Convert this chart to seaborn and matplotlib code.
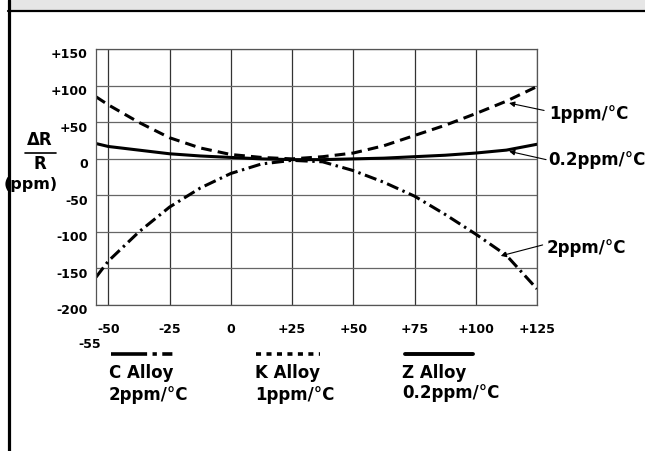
import pandas as pd
import seaborn as sns
import matplotlib.pyplot as plt
import matplotlib.transforms as mtransforms
from matplotlib.lines import Line2D
from matplotlib.patches import Rectangle

# data (temperature in C, dR/R in ppm)
temp = [-55, -50, -37.5, -25, -12.5, 0, 12.5, 25, 37.5, 50, 62.5, 75, 87.5, 100, 112.5, 125]
c_alloy = [-162, -140, -100, -66, -40, -20, -7, -2, -4, -16, -32, -51, -76, -103, -132, -178]
k_alloy = [85, 74, 50, 29, 15, 6, 2, 0, 3, 8, 18, 32, 46, 62, 79, 99]
z_alloy = [21, 17, 12, 7, 4, 2, 0, -1, -1, 0, 1, 3, 5, 8, 12, 20]

x_ticks = [-50, -25, 0, 25, 50, 75, 100, 125]
x_labels = ["-50", "-25", "0", "+25", "+50", "+75", "+100", "+125"]
y_ticks = [-200, -150, -100, -50, 0, 50, 100, 150]
y_labels = ["-200", "-150", "-100", "-50", "0", "+50", "+100", "+150"]

n = len(temp)
df = pd.DataFrame({
    "temp": temp * 3,
    "ppm": c_alloy + k_alloy + z_alloy,
    "alloy": ["C"] * n + ["K"] * n + ["Z"] * n,
})

sns.set_style("white")
plt.rcParams["font.family"] = ["DejaVu Sans"]
plt.rcParams["font.weight"] = "bold"
plt.rcParams["text.color"] = "black"
plt.rcParams["xtick.color"] = "black"
plt.rcParams["ytick.color"] = "black"

W, H = 645, 451
def px(x, y):
    return (x / W, 1 - y / H)

fig = plt.figure(figsize=(6.45, 4.51), dpi=100)
ax = fig.add_axes([96 / W, 1 - 305 / H, (537 - 96) / W, (305 - 49.3) / H])

sns.lineplot(data=df, x="temp", y="ppm", style="alloy",
             dashes={"C": (4, 1.5, 0.8, 1.5), "K": (3.5, 2), "Z": ""},
             color="black", lw=2.2, legend=False, estimator=None, sort=False, ax=ax)

ax.set_xlim(-55, 125)
ax.set_ylim(-200, 150)
ax.set_xticks(x_ticks)
ax.set_xticklabels(x_labels, fontsize=9, fontweight="bold")
ax.set_yticks(y_ticks)
ax.set_yticklabels(y_labels, fontsize=9, fontweight="bold")
ax.tick_params(axis="x", length=0, pad=13)
ax.tick_params(axis="y", length=0, pad=6)
off = mtransforms.ScaledTranslation(0, -3 / 72, fig.dpi_scale_trans)
for lab in ax.get_yticklabels():
    lab.set_transform(lab.get_transform() + off)
ax.set_xlabel("")
ax.set_ylabel("")
ax.xaxis.grid(True, color="#333333", lw=0.9)
ax.yaxis.grid(True, color="#666666", lw=0.9)
for s in ax.spines.values():
    s.set_color("#555555")
    s.set_linewidth(0.9)

# curve call-outs
arrow = dict(arrowstyle="-|>", color="black", lw=0.8, mutation_scale=8, shrinkA=0, shrinkB=0)
ax.annotate("", xy=(113.6, 76.4), xytext=(127.9, 66.3), arrowprops=arrow, annotation_clip=False)
ax.annotate("", xy=(113.6, 10.4), xytext=(128.7, -1), arrowprops=arrow, annotation_clip=False)
ax.annotate("", xy=(110.2, -132.8), xytext=(127.3, -117.8), arrowprops=arrow, annotation_clip=False)
fig.text(*px(549, 114), "1ppm/°C", fontsize=12, fontweight="bold", va="center", ha="left")
fig.text(*px(548, 160), "0.2ppm/°C", fontsize=12, fontweight="bold", va="center", ha="left")
fig.text(*px(547, 248), "2ppm/°C", fontsize=12, fontweight="bold", va="center", ha="left")

# y axis label
fig.text(*px(40, 140), "ΔR", fontsize=12, fontweight="bold", ha="center", va="center")
fig.add_artist(Line2D([25 / W, 56 / W], [1 - 152.7 / H] * 2, color="black", lw=1.2))
fig.text(*px(40, 164), "R", fontsize=12, fontweight="bold", ha="center", va="center")
fig.text(*px(31, 184), "(ppm)", fontsize=11.5, fontweight="bold", ha="center", va="center")
fig.text(*px(90, 344), "-55", fontsize=9, fontweight="bold", ha="center", va="center")

# legend samples
fig.add_artist(Line2D([111 / W, 175 / W], [1 - 354 / H] * 2, color="black", lw=2.6,
                      dashes=(10, 1.5, 1.2, 1.5, 2.8, 1.5)))
fig.add_artist(Line2D([256 / W, 320 / W], [1 - 354 / H] * 2, color="black", lw=2.6,
                      dashes=(1.4, 1.5)))
fig.add_artist(Line2D([405 / W, 473 / W], [1 - 354 / H] * 2, color="black", lw=2.8))
for x0, name, tc, y1 in [(109, "C Alloy", "2ppm/°C", 395), (255, "K Alloy", "1ppm/°C", 395),
                         (402, "Z Alloy", "0.2ppm/°C", 393)]:
    fig.text(*px(x0, 373), name, fontsize=12, fontweight="bold", va="center", ha="left")
    fig.text(*px(x0, y1), tc, fontsize=12, fontweight="bold", va="center", ha="left")

# frame: grey header band, black rules
fig.add_artist(Rectangle((10 / W, 1 - 10 / H), 1, 10 / H, transform=fig.transFigure,
                         color="#e6e6e6", lw=0))
fig.add_artist(Line2D([8 / W, 1], [1 - 11 / H] * 2, color="black", lw=1.6))
fig.add_artist(Line2D([8.5 / W] * 2, [0, 1], color="black", lw=2.3))

fig.savefig("out.png", dpi=100)
